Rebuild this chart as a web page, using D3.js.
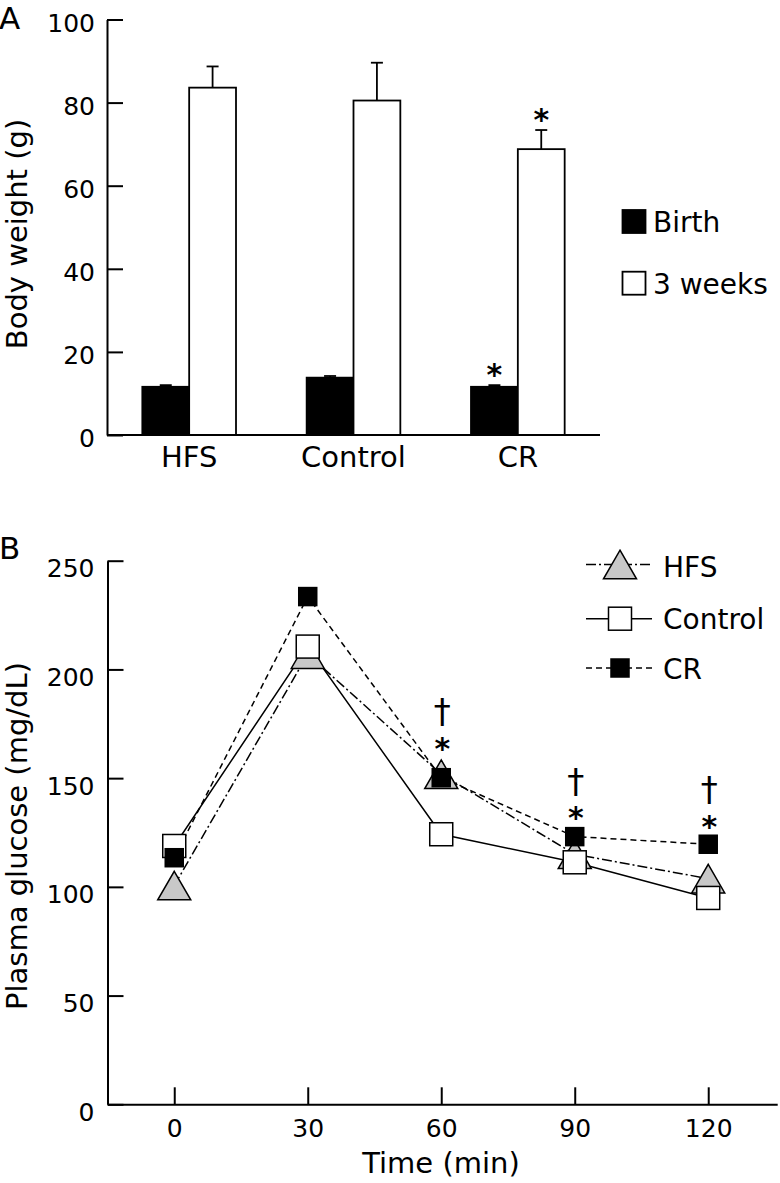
<!DOCTYPE html>
<html>
<head>
<meta charset="utf-8">
<script src="https://cdn.jsdelivr.net/npm/d3@7"></script>
<style>
  html, body { margin: 0; padding: 0; background: #fff; }
  svg { display: block; }
  text { font-family: "DejaVu Sans", Verdana, sans-serif; fill: #000; }
</style>
</head>
<body>
<svg id="chart" width="780" height="1183"></svg>
<script>
// ---------- Panel A data ----------
const groups = ["HFS", "Control", "CR"];
const seriesA = ["Birth", "3 weeks"];
const birthWeight = [11.6, 13.8, 11.6];
const birthErr = [0.4, 0.4, 0.4];
const weeks3Weight = [83.6, 80.5, 68.8];
const weeks3Err = [5.1, 9.1, 4.6];
const birthSig = ["", "", "*"];
const weeks3Sig = ["", "", "*"];
const yTicksA = [0, 20, 40, 60, 80, 100];

// ---------- Panel B data ----------
const times = [0, 30, 60, 90, 120];
const seriesB = ["HFS", "Control", "CR"];
const hfsGlucose = [100.6, 207.0, 151.8, 115.0, 103.8];
const controlGlucose = [118.8, 210.5, 124.2, 111.3, 94.9];
const crGlucose = [113.4, 233.5, 150.2, 123.1, 119.6];
const sigTimes = [60, 90, 120];
const asteriskLevel = [166.8, 135.4, 130.9];
const daggerLevel = [180.2, 148.0, 144.2];
const xTicksB = [0, 30, 60, 90, 120];
const yTicksB = [0, 50, 100, 150, 200, 250];

const svg = d3.select("#chart");
const FONT = "'DejaVu Sans', Verdana, sans-serif";

// =============== Panel A ===============
const gA = svg.append("g");
const xA = d3.scaleBand().domain(groups).range([107, 600]).paddingInner(0.43).paddingOuter(0.215);
const xSub = d3.scaleBand().domain(seriesA).range([0, xA.bandwidth()]);
const yA = d3.scaleLinear().domain([0, 100]).range([435, 19.5]);

// y axis
const yAxisA = d3.axisLeft(yA).tickValues(yTicksA).tickSize(-16).tickSizeOuter(0).tickPadding(12);
const yAG = gA.append("g").attr("transform", "translate(107,0)").call(yAxisA);
yAG.select(".domain").attr("stroke", "#000").attr("stroke-width", 2);
yAG.selectAll(".tick line").attr("stroke", "#000").attr("stroke-width", 2);
yAG.selectAll(".tick text").attr("font-size", 25).attr("font-family", FONT).attr("dy", "0.46em");

// bars
const barData = [];
groups.forEach((g, i) => {
  barData.push({g, s: seriesA[0], v: birthWeight[i], e: birthErr[i], sig: birthSig[i], fill: "#000"});
  barData.push({g, s: seriesA[1], v: weeks3Weight[i], e: weeks3Err[i], sig: weeks3Sig[i], fill: "#fff"});
});
// error bars (drawn before bars so bar covers bottom)
const capW = 12;
barData.forEach(d => {
  const cx = xA(d.g) + xSub(d.s) + xSub.bandwidth() / 2;
  gA.append("line").attr("x1", cx).attr("x2", cx).attr("y1", yA(d.v)).attr("y2", yA(d.v + d.e))
    .attr("stroke", "#000").attr("stroke-width", 1.8);
  gA.append("line").attr("x1", cx - capW / 2).attr("x2", cx + capW / 2).attr("y1", yA(d.v + d.e)).attr("y2", yA(d.v + d.e))
    .attr("stroke", "#000").attr("stroke-width", 1.8);
});
gA.selectAll("rect.bar").data(barData).enter().append("rect")
  .attr("class", "bar")
  .attr("x", d => xA(d.g) + xSub(d.s))
  .attr("y", d => yA(d.v))
  .attr("width", xSub.bandwidth())
  .attr("height", d => yA(0) - yA(d.v))
  .attr("fill", d => d.fill)
  .attr("stroke", "#000").attr("stroke-width", 1.8);
// significance asterisks
barData.filter(d => d.sig).forEach(d => {
  const cx = xA(d.g) + xSub(d.s) + xSub.bandwidth() / 2;
  gA.append("text").attr("x", cx).attr("y", yA(d.v + d.e) - 0.5)
    .attr("text-anchor", "middle").attr("font-size", 30).attr("font-weight", "bold")
    .attr("font-family", FONT).text(d.sig);
});

// x axis
const xAxisA = d3.axisBottom(xA).tickSize(0).tickSizeOuter(0).tickPadding(0);
const xAG = gA.append("g").attr("transform", "translate(0,435)").call(xAxisA);
xAG.select(".domain").attr("stroke", "#000").attr("stroke-width", 2).attr("d", "M107,0H600");
xAG.selectAll(".tick text").attr("font-size", 29).attr("font-family", FONT).attr("y", 31.7).attr("dy", 0);

// y title
gA.append("text").attr("transform", "translate(26.5,234) rotate(-90)")
  .attr("text-anchor", "middle").attr("font-size", 29).attr("font-family", FONT).text("Body weight (g)");
// panel letter
svg.append("text").attr("x", -1).attr("y", 28.5).attr("font-size", 31).attr("font-family", FONT).text("A");

// legend A
const legA = gA.append("g");
seriesA.forEach((s, i) => {
  const y0 = 210 + i * 61.7;
  legA.append("rect").attr("x", 622.5).attr("y", y0).attr("width", 23).attr("height", 23)
    .attr("fill", i === 0 ? "#000" : "#fff").attr("stroke", "#000").attr("stroke-width", 1.8);
  legA.append("text").attr("x", 653).attr("y", y0 + 22.3).attr("font-size", 28).attr("font-family", FONT).text(s);
});

// =============== Panel B ===============
const gB = svg.append("g");
const xB = d3.scaleLinear().domain([-15, 135.5]).range([107.5, 777.2]);
const yB = d3.scaleLinear().domain([0, 250]).range([1104.3, 560.7]);

const yAxisB = d3.axisLeft(yB).tickValues(yTicksB).tickSize(-16).tickSizeOuter(0).tickPadding(13);
const yBG = gB.append("g").attr("transform", "translate(107.5,0)").call(yAxisB);
yBG.select(".domain").attr("stroke", "#000").attr("stroke-width", 2);
yBG.selectAll(".tick line").attr("stroke", "#000").attr("stroke-width", 2);
yBG.selectAll(".tick text").attr("font-size", 25).attr("font-family", FONT).attr("dy", "0.64em");

const xAxisB = d3.axisBottom(xB).tickValues(xTicksB).tickSize(-17).tickSizeOuter(0).tickPadding(0);
const xBG = gB.append("g").attr("transform", "translate(0,1104.3)").call(xAxisB);
xBG.select(".domain").attr("stroke", "#000").attr("stroke-width", 2);
xBG.selectAll(".tick line").attr("stroke", "#000").attr("stroke-width", 2);
xBG.selectAll(".tick text").attr("font-size", 25).attr("font-family", FONT).attr("y", 32.4).attr("dy", 0);

gB.append("text").attr("x", 441).attr("y", 1173).attr("text-anchor", "middle")
  .attr("font-size", 29).attr("font-family", FONT).text("Time (min)");
gB.append("text").attr("transform", "translate(26.5,836) rotate(-90)")
  .attr("text-anchor", "middle").attr("font-size", 29).attr("font-family", FONT).text("Plasma glucose (mg/dL)");
svg.append("text").attr("x", -1).attr("y", 559).attr("font-size", 31).attr("font-family", FONT).text("B");

const triSide = 33, triH = 28.6;
const triPath = `M0,${-triH / 2}L${triSide / 2},${triH / 2}L${-triSide / 2},${triH / 2}Z`;
const seriesDefs = [
  {name: seriesB[0], vals: hfsGlucose, dash: "10,3,2,3", marker: "tri", fill: "#c8c8c8"},
  {name: seriesB[1], vals: controlGlucose, dash: null, marker: "sq", size: 23, fill: "#fff"},
  {name: seriesB[2], vals: crGlucose, dash: "6,4", marker: "sq", size: 18, fill: "#000"}
];
const line = d3.line().x(d => xB(d.t)).y(d => yB(d.v));

function drawMarker(g, def, x, y) {
  if (def.marker === "tri") {
    g.append("path").attr("d", triPath).attr("transform", `translate(${x},${y})`)
      .attr("fill", def.fill).attr("stroke", "#000").attr("stroke-width", 1.5);
  } else {
    g.append("rect").attr("x", x - def.size / 2).attr("y", y - def.size / 2)
      .attr("width", def.size).attr("height", def.size)
      .attr("fill", def.fill).attr("stroke", "#000").attr("stroke-width", 1.5);
  }
}

seriesDefs.forEach(def => {
  const pts = times.map((t, i) => ({t, v: def.vals[i]}));
  gB.append("path").attr("d", line(pts)).attr("fill", "none").attr("stroke", "#000")
    .attr("stroke-width", 1.5).attr("stroke-dasharray", def.dash);
});
seriesDefs.forEach(def => {
  times.forEach((t, i) => drawMarker(gB, def, xB(t), yB(def.vals[i])));
});

// significance marks
sigTimes.forEach((t, i) => {
  gB.append("text").attr("x", xB(t) + 1).attr("y", yB(asteriskLevel[i]) + 17.7)
    .attr("text-anchor", "middle").attr("font-size", 30).attr("font-weight", "bold")
    .attr("font-family", FONT).text("*");
  gB.append("text").attr("x", xB(t) + 1).attr("y", yB(daggerLevel[i]) + 10.5)
    .attr("text-anchor", "middle").attr("font-size", 34)
    .attr("font-family", FONT).text("\u2020");
});

// legend B
const legB = gB.append("g");
seriesDefs.forEach((def, i) => {
  const cy = [564.5, 618.7, 668][i];
  legB.append("line").attr("x1", 586).attr("x2", 652).attr("y1", cy).attr("y2", cy)
    .attr("stroke", "#000").attr("stroke-width", 1.5).attr("stroke-dasharray", def.dash);
  drawMarker(legB, def, 620, cy);
  legB.append("text").attr("x", 663).attr("y", [576.7, 629.3, 679.3][i])
    .attr("font-size", 28).attr("font-family", FONT).text(def.name);
});
</script>
</body>
</html>
